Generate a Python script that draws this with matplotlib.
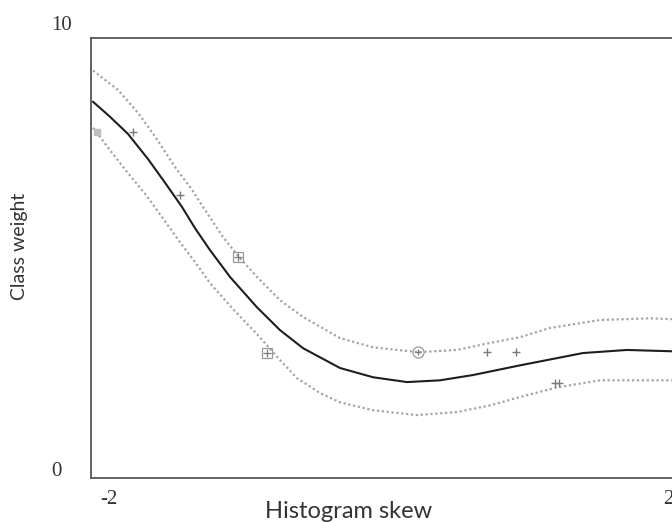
import matplotlib
matplotlib.use('Agg')
import matplotlib.pyplot as plt

# fitted curve (solid) and the two confidence bands (dotted)
fit_x = [-1.986, -1.871, -1.749, -1.613, -1.497, -1.382, -1.294, -1.192, -1.056, -0.873, -0.716,
         -0.560, -0.309, -0.085, 0.146, 0.370, 0.594, 0.913, 1.341, 1.640, 1.946]
fit_y = [8.55, 8.21, 7.82, 7.25, 6.71, 6.16, 5.68, 5.18, 4.57, 3.88, 3.36,
         2.95, 2.50, 2.29, 2.18, 2.22, 2.34, 2.56, 2.84, 2.91, 2.88]

upper_x = [-1.986, -1.817, -1.681, -1.565, -1.430, -1.314, -1.239, -1.104, -1.002, -0.873, -0.716,
           -0.560, -0.309, -0.085, 0.221, 0.486, 0.710, 0.913, 1.117, 1.457, 1.796, 1.946]
upper_y = [9.26, 8.82, 8.30, 7.76, 7.07, 6.55, 6.16, 5.48, 5.05, 4.57, 4.04,
           3.66, 3.18, 2.97, 2.86, 2.91, 3.07, 3.20, 3.41, 3.59, 3.63, 3.61]

lower_x = [-1.986, -1.857, -1.749, -1.633, -1.518, -1.396, -1.294, -1.192, -1.036, -0.873, -0.716,
           -0.601, -0.445, -0.309, -0.085, 0.214, 0.486, 0.710, 0.913, 1.165, 1.457, 1.946]
lower_y = [7.96, 7.39, 6.93, 6.46, 5.93, 5.36, 4.91, 4.43, 3.84, 3.27, 2.68,
           2.27, 1.93, 1.72, 1.54, 1.43, 1.50, 1.65, 1.84, 2.06, 2.22, 2.22]

# observed class weights
plus_x = [-1.715, -1.396, 0.689, 0.886, 1.150, 1.180]
plus_y = [7.86, 6.43, 2.86, 2.86, 2.16, 2.16]
boxed_x = [-1.002, -0.805]
boxed_y = [5.02, 2.84]
circled_x = [0.221]
circled_y = [2.86]
blob_x = [-1.959]
blob_y = [7.86]

W, H = 672, 522
fig = plt.figure(figsize=(W / 100, H / 100), dpi=100)
# axes box in pixels: left 91, top 38, bottom 478, right runs past the image edge
ax = fig.add_axes([91 / W, (H - 478) / H, (680 - 91) / W, (478 - 38) / H])
ax.set_xlim(-2, 2)
ax.set_ylim(0, 10)

dots = (0, (1, 1.2))
ax.plot(upper_x, upper_y, color='#a4a4a4', lw=1.6, ls=dots)
ax.plot(lower_x, lower_y, color='#a4a4a4', lw=1.6, ls=dots)
ax.plot(fit_x, fit_y, color='#1e1e1e', lw=1.5)

g = '#7a7a7a'
ax.plot(plus_x, plus_y, ls='none', marker='+', ms=6, mew=1.0, color=g)
ax.plot(boxed_x, boxed_y, ls='none', marker='s', ms=7, mfc='none', mec='#9a9a9a', mew=0.9)
ax.plot(boxed_x, boxed_y, ls='none', marker='+', ms=6, mew=0.9, color=g)
ax.plot(circled_x, circled_y, ls='none', marker='o', ms=8, mfc='none', mec='#9a9a9a', mew=0.9)
ax.plot(circled_x, circled_y, ls='none', marker='+', ms=5, mew=0.9, color=g)
ax.plot(blob_x, blob_y, ls='none', marker='s', ms=5, color='#bdbdbd', mec='#bdbdbd')

ax.spines['right'].set_visible(False)
for side in ['left', 'top', 'bottom']:
    ax.spines[side].set_color('#555555')
    ax.spines[side].set_linewidth(1.3)
ax.set_xticks([])
ax.set_yticks([])

serif = dict(family='Liberation Serif', fontsize=15, color='#333333', ha='center', va='center')
fig.text(62 / W, 1 - 25 / H, '10', **serif)
fig.text(56 / W, 1 - 471 / H, '0', **serif)
fig.text(109 / W, 1 - 500 / H, '-2', **serif)
fig.text(668 / W, 1 - 500 / H, '2', **serif)

sans = dict(family='Lato', color='#333333', ha='center', va='center')
fig.text(349 / W, 1 - 511 / H, 'Histogram skew', fontsize=17, **sans)
fig.text(20 / W, 1 - 246 / H, 'Class weight', rotation=90, fontsize=14, **sans)

fig.savefig('out.png', dpi=100)
